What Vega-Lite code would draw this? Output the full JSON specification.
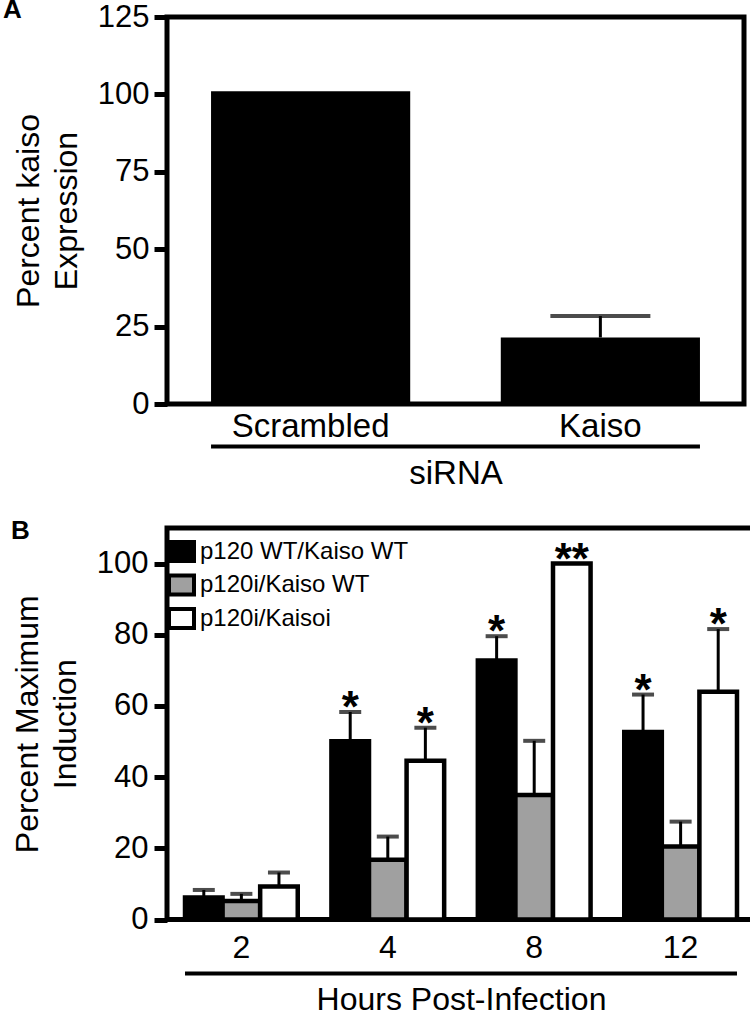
{
  "$schema": "https://vega.github.io/schema/vega-lite/v6.json",
  "padding": {"top": -6, "left": 0, "right": 0, "bottom": 0},
  "background": "white",
  "columns": 1,
  "align": "none",
  "spacing": 22,
  "resolve": {"scale": {"fill": "independent"}, "legend": {"fill": "independent"}},
  "config": {
    "font": "Liberation Sans",
    "view": {"stroke": "black", "strokeWidth": 5},
    "axis": {"grid": false, "domain": false, "labelColor": "black", "titleColor": "black", "labelFont": "Liberation Sans", "titleFont": "Liberation Sans", "titleFontWeight": "normal", "tickColor": "black"},
    "title": {"font": "Liberation Sans", "color": "black"}
  },
  "concat": [
    {
      "title": {"text": "A", "anchor": "start", "frame": "group", "fontSize": 26, "fontWeight": "bold", "dx": -164, "offset": 0, "dy": 22},
      "width": 577,
      "height": 387,
      "data": {"values": [
        {"siRNA": "Scrambled", "value": 101, "hi": null},
        {"siRNA": "Kaiso", "value": 21.5, "hi": 28.4}
      ]},
      "layer": [
        {
          "mark": {"type": "bar", "color": "black"},
          "encoding": {
            "x": {"field": "siRNA", "type": "nominal", "title": "siRNA",
              "scale": {"domain": ["Scrambled", "Kaiso"], "paddingInner": 0.3126, "paddingOuter": 0.152},
              "axis": {"title": "siRNA", "labelAngle": 0, "ticks": false, "labelFontSize": 33, "labelPadding": 6, "titleFontSize": 33, "titlePadding": 14}},
            "y": {"field": "value", "type": "quantitative", "title": ["Percent kaiso", "Expression"],
              "scale": {"domain": [0, 125], "nice": false},
              "axis": {"title": ["Percent kaiso", "Expression"], "values": [0, 25, 50, 75, 100, 125], "tickSize": 13, "tickWidth": 5, "labelFontSize": 31, "labelPadding": 5, "titleFontSize": 32, "titleLineHeight": 38, "titlePadding": 14}}
          }
        },
        {
          "transform": [{"filter": "datum.hi != null"}],
          "mark": {"type": "rule", "color": "black", "strokeWidth": 3},
          "encoding": {
            "x": {"field": "siRNA", "type": "nominal", "title": "siRNA"},
            "y": {"field": "value", "type": "quantitative", "title": ["Percent kaiso", "Expression"]},
            "y2": {"field": "hi"}
          }
        },
        {
          "transform": [{"filter": "datum.hi != null"}],
          "mark": {"type": "tick", "color": "black", "thickness": 4, "size": 100},
          "encoding": {
            "x": {"field": "siRNA", "type": "nominal", "title": "siRNA"},
            "y": {"field": "hi", "type": "quantitative", "title": ["Percent kaiso", "Expression"]}
          }
        },
        {
          "data": {"values": [{"from": "Scrambled", "to": "Kaiso", "level": -13.7}]},
          "mark": {"type": "rule", "color": "black", "strokeWidth": 4},
          "encoding": {
            "x": {"field": "from", "type": "nominal", "bandPosition": 0, "title": "siRNA"},
            "x2": {"field": "to", "bandPosition": 1},
            "y": {"field": "level", "type": "quantitative", "title": ["Percent kaiso", "Expression"]}
          }
        }
      ]
    },
    {
      "title": {"text": "B", "anchor": "start", "frame": "group", "fontSize": 26, "fontWeight": "bold", "dx": -156, "offset": 0, "dy": 16},
      "width": 588,
      "height": 391.5,
      "data": {"values": [
        {"hour": "2", "group": "p120 WT/Kaiso WT", "value": 6.2, "hi": 8.3, "sig": ""},
        {"hour": "2", "group": "p120i/Kaiso WT", "value": 5.2, "hi": 7.2, "sig": ""},
        {"hour": "2", "group": "p120i/Kaisoi", "value": 9.3, "hi": 13.2, "sig": ""},
        {"hour": "4", "group": "p120 WT/Kaiso WT", "value": 50.1, "hi": 58.3, "sig": "*"},
        {"hour": "4", "group": "p120i/Kaiso WT", "value": 16.8, "hi": 23.3, "sig": ""},
        {"hour": "4", "group": "p120i/Kaisoi", "value": 44.6, "hi": 53.9, "sig": "*"},
        {"hour": "8", "group": "p120 WT/Kaiso WT", "value": 72.8, "hi": 79.6, "sig": "*"},
        {"hour": "8", "group": "p120i/Kaiso WT", "value": 35.0, "hi": 50.2, "sig": ""},
        {"hour": "8", "group": "p120i/Kaisoi", "value": 100, "hi": 100, "sig": "**"},
        {"hour": "12", "group": "p120 WT/Kaiso WT", "value": 52.7, "hi": 63.2, "sig": "*"},
        {"hour": "12", "group": "p120i/Kaiso WT", "value": 20.5, "hi": 27.5, "sig": ""},
        {"hour": "12", "group": "p120i/Kaisoi", "value": 64.0, "hi": 81.6, "sig": "*"}
      ]},
      "layer": [
        {
          "mark": {"type": "bar", "stroke": "black", "strokeWidth": 4.5},
          "encoding": {
            "x": {"field": "hour", "type": "nominal", "title": "Hours Post-Infection",
              "scale": {"domain": ["2", "4", "8", "12"], "paddingInner": 0.23, "paddingOuter": 0.123},
              "axis": {"title": "Hours Post-Infection", "labelAngle": 0, "ticks": false, "labelFontSize": 32, "labelPadding": 13, "titleFontSize": 32, "titlePadding": 21}},
            "xOffset": {"field": "group", "type": "nominal", "scale": {"domain": ["p120 WT/Kaiso WT", "p120i/Kaiso WT", "p120i/Kaisoi"], "paddingInner": 0, "paddingOuter": 0}},
            "y": {"field": "value", "type": "quantitative", "title": ["Percent Maximum", "Induction"],
              "scale": {"domain": [0, 110], "nice": false},
              "axis": {"title": ["Percent Maximum", "Induction"], "values": [0, 20, 40, 60, 80, 100], "tickSize": 13, "tickWidth": 5, "labelFontSize": 31, "labelPadding": 6, "titleFontSize": 32, "titleLineHeight": 38, "titlePadding": 14}},
            "fill": {"field": "group", "type": "nominal",
              "scale": {"domain": ["p120 WT/Kaiso WT", "p120i/Kaiso WT", "p120i/Kaisoi"], "range": ["black", "#a0a0a0", "white"]},
              "legend": {"title": null, "orient": "none", "legendX": 0, "legendY": 9, "padding": 0,
                "symbolType": "M-1,-0.76H1V0.76H-1Z", "symbolSize": 625, "symbolStrokeColor": "black", "symbolStrokeWidth": 4, "symbolOpacity": 1,
                "labelFontSize": 24, "labelColor": "black", "labelOffset": 4, "rowPadding": -1.5, "labelLimit": 400}}
          }
        },
        {
          "transform": [{"filter": "datum.hi > datum.value"}],
          "mark": {"type": "rule", "color": "black", "strokeWidth": 3},
          "encoding": {
            "x": {"field": "hour", "type": "nominal", "title": "Hours Post-Infection"},
            "xOffset": {"field": "group", "type": "nominal"},
            "y": {"field": "value", "type": "quantitative", "title": ["Percent Maximum", "Induction"]},
            "y2": {"field": "hi"}
          }
        },
        {
          "transform": [{"filter": "datum.hi > datum.value"}],
          "mark": {"type": "tick", "color": "black", "thickness": 4, "size": 22},
          "encoding": {
            "x": {"field": "hour", "type": "nominal", "title": "Hours Post-Infection"},
            "xOffset": {"field": "group", "type": "nominal"},
            "y": {"field": "hi", "type": "quantitative", "title": ["Percent Maximum", "Induction"]}
          }
        },
        {
          "mark": {"type": "text", "color": "black", "fontSize": 44, "fontWeight": "bold", "baseline": "alphabetic", "dy": 10},
          "encoding": {
            "x": {"field": "hour", "type": "nominal", "title": "Hours Post-Infection"},
            "xOffset": {"field": "group", "type": "nominal"},
            "y": {"field": "hi", "type": "quantitative", "title": ["Percent Maximum", "Induction"]},
            "text": {"field": "sig"}
          }
        },
        {
          "data": {"values": [{"from": "2", "to": "12", "level": -15.2}]},
          "mark": {"type": "rule", "color": "black", "strokeWidth": 4},
          "encoding": {
            "x": {"field": "from", "type": "nominal", "bandPosition": 0, "title": "Hours Post-Infection"},
            "x2": {"field": "to", "bandPosition": 1},
            "y": {"field": "level", "type": "quantitative", "title": ["Percent Maximum", "Induction"]}
          }
        }
      ]
    }
  ]
}
